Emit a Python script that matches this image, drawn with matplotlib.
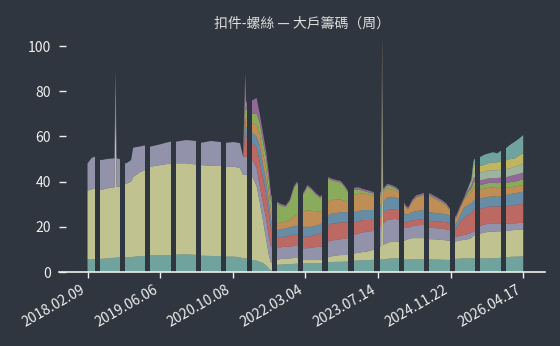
import matplotlib
matplotlib.use("Agg")
import matplotlib.pyplot as plt

plt.rcParams['font.family'] = ['Noto Sans CJK TC', 'DejaVu Sans']

BG = '#2f3640'
FG = '#eeeeee'

# weekly sample index (0 = 2018.02.09)
weeks = [
    0, 4, 7, 13, 19, 26, 27, 28, 31, 37, 42, 44, 50, 55,
    61, 70, 80, 86, 95, 104, 110, 119, 128, 134, 141, 147, 150,
    152, 153, 159, 163, 166, 169, 172, 175, 177,
    183, 187, 191, 195, 199, 202,
    208, 212, 216, 220, 224, 226,
    232, 236, 240, 244, 248, 251,
    257, 261, 265, 269, 273, 276,
    282, 283, 284, 285, 289, 293, 297, 300,
    306, 309, 313, 317, 321, 324,
    330, 334, 338, 342, 346, 349,
    355, 359, 363, 367, 370, 372, 373,
    379, 383, 387, 391, 395, 398,
    404, 408, 412, 416, 420,
]

# weeks with no data (each run is 5 weeks long)
missing_start = [8, 32, 56, 81, 105, 129, 154, 178, 203, 227, 252, 277, 301, 325, 350, 374, 399]
missing_len = 5

tick_pos = [0, 70, 140, 210, 280, 350, 420]
tick_labels = ['2018.02.09', '2019.06.06', '2020.10.08', '2022.03.04',
               '2023.07.14', '2024.11.22', '2026.04.17']

# holding share per tier (%), bottom to top
tier1 = [
    5.6, 5.6, 5.7, 5.8, 6.0, 6.3, 6.3, 6.3, 6.5, 6.5, 6.6, 6.7, 7.0, 7.0,
    7.3, 7.5, 7.5, 7.7, 7.8, 7.6, 7.2, 7.1, 7.0, 6.8, 6.8, 6.5, 6.0,
    6.0, 6.0, 5.3, 5.0, 4.5, 4.0, 3.0, 1.5, 0.5,
    3.2, 3.3, 3.5, 3.5, 3.6, 3.7,
    3.8, 3.8, 3.8, 3.8, 3.8, 3.8,
    4.3, 4.4, 4.5, 4.5, 4.6, 4.6,
    5.0, 5.1, 5.2, 5.3, 5.3, 5.4,
    5.5, 5.5, 5.5, 5.6, 5.8, 6.0, 6.0, 6.0,
    5.5, 5.5, 5.6, 5.6, 5.7, 5.7,
    5.6, 5.5, 5.5, 5.4, 5.4, 5.3,
    5.8, 5.9, 6.0, 6.0, 6.0, 6.0, 6.0,
    6.0, 6.0, 6.0, 6.1, 6.2, 6.3,
    6.5, 6.7, 6.8, 6.8, 6.9,
]
tier2 = [
    30.4, 30.9, 31.3, 30.5, 31.0, 31.2, 69.7, 31.4, 31.2, 32.5, 33.4, 35.3, 37.0, 38.0,
    39.3, 39.8, 40.5, 40.4, 40.3, 40.0, 40.1, 39.9, 39.9, 39.8, 39.8, 39.5, 37.0,
    37.0, 37.0, 36.7, 33.0, 26.5, 19.0, 12.0, 5.5, 3.5,
    2.3, 2.5, 2.5, 2.5, 2.6, 2.5,
    1.5, 1.5, 1.5, 1.5, 1.7, 1.7,
    2.2, 2.6, 2.8, 3.0, 2.9, 3.0,
    3.2, 3.4, 3.6, 3.7, 4.2, 4.6,
    5.5, 6.0, 74.5, 6.4, 7.0, 7.5, 7.5, 7.4,
    8.5, 9.0, 9.4, 9.4, 9.3, 9.3,
    8.9, 9.0, 8.8, 8.8, 8.6, 8.5,
    7.7, 8.1, 8.2, 8.5, 9.0, 10.0, 10.2,
    11.0, 11.5, 11.8, 11.7, 11.8, 11.7,
    11.7, 11.7, 11.8, 11.9, 11.9,
]
tier3 = [
    12.0, 14.0, 14.0, 13.2, 13.0, 12.8, 13.0, 12.6, 12.3, 9.0, 9.5, 13.0, 11.5, 11.0,
    8.9, 9.2, 9.7, 9.6, 10.3, 10.4, 9.9, 11.0, 10.6, 10.6, 10.9, 11.0, 8.0,
    8.0, 8.0, 7.6, 8.0, 7.0, 8.0, 9.0, 8.0, 7.0,
    5.0, 5.2, 5.2, 5.2, 5.3, 5.3,
    5.2, 5.2, 5.5, 5.7, 5.7, 5.7,
    7.0, 7.0, 6.9, 7.0, 7.3, 7.4,
    8.3, 8.5, 8.7, 8.8, 8.5, 8.2,
    9.0, 9.0, 8.0, 9.5, 10.2, 9.8, 10.0, 9.6,
    5.5, 5.0, 5.3, 5.5, 5.8, 5.8,
    5.0, 5.0, 5.0, 5.0, 4.8, 4.7,
    2.0, 2.0, 2.2, 2.3, 2.3, 2.0, 2.1,
    3.5, 3.5, 3.7, 3.7, 3.5, 3.5,
    3.1, 3.1, 2.9, 3.0, 3.0,
]
tier4 = [
    0, 0, 0, 0, 0, 0, 0, 0, 0, 0, 0, 0, 0, 0,
    0, 0, 0, 0, 0, 0, 0, 0, 0, 0, 0, 0, 0,
    11.0, 9.0, 7.4, 9.0, 11.0, 11.0, 11.0, 10.0, 8.0,
    4.5, 4.5, 4.4, 4.8, 5.0, 5.0,
    5.1, 5.1, 5.2, 5.5, 5.8, 6.0,
    7.0, 7.5, 7.3, 7.5, 7.2, 7.0,
    5.5, 5.5, 5.5, 5.2, 5.0, 5.0,
    4.5, 4.5, 5.0, 4.5, 4.4, 4.5, 4.0, 4.4,
    2.5, 2.5, 2.5, 2.5, 2.5, 2.7,
    3.0, 3.0, 3.1, 3.0, 3.2, 3.0,
    3.5, 6.0, 7.6, 8.4, 8.7, 9.5, 9.7,
    7.5, 7.5, 7.5, 7.5, 7.5, 7.5,
    7.7, 7.8, 8.1, 8.3, 8.2,
]
tier5 = [
    0, 0, 0, 0, 0, 0, 0, 0, 0, 0, 0, 0, 0, 0,
    0, 0, 0, 0, 0, 0, 0, 0, 0, 0, 0, 0, 0,
    6.0, 4.0, 4.5, 5.0, 7.0, 6.0, 6.0, 5.0, 4.0,
    3.5, 3.5, 3.7, 3.8, 3.8, 4.0,
    4.4, 4.4, 4.0, 4.0, 4.0, 4.5,
    4.5, 4.5, 4.5, 4.5, 4.5, 4.5,
    4.5, 4.5, 4.4, 4.4, 4.4, 4.3,
    5.0, 5.0, 4.0, 5.0, 5.6, 5.5, 5.5, 5.1,
    3.5, 3.5, 3.7, 4.0, 3.9, 4.0,
    4.0, 3.7, 3.6, 3.6, 3.5, 3.5,
    2.0, 3.0, 4.5, 4.4, 4.5, 4.0, 4.0,
    4.5, 4.5, 4.3, 4.5, 4.3, 4.5,
    5.0, 5.2, 5.2, 5.2, 5.5,
]
tier6 = [
    0, 0, 0, 0, 0, 0, 0, 0, 0, 0, 0, 0, 0, 0,
    0, 0, 0, 0, 0, 0, 0, 0, 0, 0, 0, 0, 0,
    6.0, 4.0, 4.5, 5.0, 5.0, 5.0, 5.0, 5.0, 4.0,
    3.0, 3.0, 3.0, 3.2, 4.2, 5.0,
    6.5, 7.4, 7.0, 6.5, 5.5, 5.3,
    6.0, 5.9, 6.0, 5.5, 5.0, 4.5,
    7.5, 7.5, 7.4, 7.1, 6.6, 6.3,
    4.0, 4.5, 4.0, 4.5, 4.0, 3.2, 3.0, 2.8,
    3.5, 2.3, 4.5, 6.0, 6.3, 6.5,
    7.0, 6.3, 5.5, 4.7, 3.8, 2.5,
    2.5, 3.0, 3.5, 4.9, 5.0, 5.5, 5.5,
    4.0, 4.0, 3.9, 4.0, 3.7, 3.8,
    3.3, 3.0, 3.0, 3.0, 3.0,
]
tier7 = [
    0, 0, 0, 0, 0, 0, 0, 0, 0, 0, 0, 0, 0, 0,
    0, 0, 0, 0, 0, 0, 0, 0, 0, 0, 0, 0, 0,
    6.0, 4.0, 4.0, 5.0, 5.0, 5.0, 5.0, 5.0, 4.0,
    8.8, 7.3, 6.5, 8.3, 12.8, 13.8,
    7.8, 10.4, 9.3, 7.3, 6.3, 6.3,
    10.3, 8.6, 8.0, 7.6, 6.0, 4.3,
    2.5, 2.0, 1.2, 1.0, 1.0, 0.7,
    0.8, 0.8, 2.0, 0.8, 1.3, 1.3, 1.0, 0.7,
    0.3, 0.2, 0.3, 0.3, 0.3, 0.3,
    0.5, 0.5, 0.5, 0.5, 0.4, 0.3,
    0.2, 0.2, 0.3, 1.0, 1.5, 2.5, 2.5,
    2.0, 2.0, 2.2, 2.0, 2.3, 2.2,
    2.2, 2.3, 2.2, 2.3, 2.5,
]
tier8 = [
    0, 0, 0, 0, 0, 0, 0, 0, 0, 0, 0, 0, 0, 0,
    0, 0, 0, 0, 0, 0, 0, 0, 0, 0, 0, 0, 0,
    8.0, 3.0, 6.0, 7.0, 4.0, 4.0, 3.0, 3.0, 3.0,
    0.7, 0.7, 0.7, 0.7, 0.7, 0.7,
    0.7, 0.7, 0.7, 0.7, 0.7, 0.7,
    0.7, 0.7, 0.7, 0.7, 0.7, 0.7,
    0.8, 1.0, 0.8, 0.8, 0.8, 0.8,
    0.7, 0.7, 1.5, 0.7, 0.7, 0.7, 0.7, 0.5,
    0.7, 0.5, 0.7, 0.7, 0.7, 0.7,
    0.8, 0.8, 0.8, 0.7, 0.6, 0.5,
    0.8, 0.8, 0.7, 1.0, 1.5, 2.0, 2.0,
    2.0, 2.0, 2.1, 2.0, 2.2, 2.3,
    2.5, 2.7, 3.0, 3.0, 3.0,
]
tier9 = [
    0, 0, 0, 0, 0, 0, 0, 0, 0, 0, 0, 0, 0, 0,
    0, 0, 0, 0, 0, 0, 0, 0, 0, 0, 0, 0, 0,
    0, 0, 0, 0, 0, 0, 0, 0, 0,
    0, 0, 0, 0, 0, 0,
    0, 0, 0, 0, 0, 0,
    0, 0, 0, 0, 0, 0,
    0, 0, 0, 0, 0, 0,
    0, 0, 0, 0, 0, 0, 0, 0,
    0, 0, 0, 0, 0, 0,
    0, 0, 0, 0, 0, 0,
    0, 0, 0, 0.5, 1.0, 2.5, 3.0,
    3.5, 3.5, 3.6, 3.5, 3.5, 3.5,
    3.5, 3.5, 3.6, 3.7, 4.0,
]
tier10 = [
    0, 0, 0, 0, 0, 0, 0, 0, 0, 0, 0, 0, 0, 0,
    0, 0, 0, 0, 0, 0, 0, 0, 0, 0, 0, 0, 0,
    0, 0, 0, 0, 0, 0, 0, 0, 0,
    0, 0, 0, 0, 0, 0,
    0, 0, 0, 0, 0, 0,
    0, 0, 0, 0, 0, 0,
    0, 0, 0, 0, 0, 0,
    0, 0, 0, 0, 0, 0, 0, 0,
    0, 0, 0, 0, 0, 0,
    0, 0, 0, 0, 0, 0,
    0, 0, 0, 0.3, 0.8, 2.5, 2.5,
    3.0, 3.0, 3.1, 3.5, 3.5, 3.7,
    4.0, 4.0, 3.7, 4.3, 4.5,
]
tier11 = [
    0, 0, 0, 0, 0, 0, 0, 0, 0, 0, 0, 0, 0, 0,
    0, 0, 0, 0, 0, 0, 0, 0, 0, 0, 0, 0, 0,
    0, 0, 0, 0, 0, 0, 0, 0, 0,
    0, 0, 0, 0, 0, 0,
    0, 0, 0, 0, 0, 0,
    0, 0, 0, 0, 0, 0,
    0, 0, 0, 0, 0, 0,
    0, 0, 0, 0, 0, 0, 0, 0,
    0, 0, 0, 0, 0, 0,
    0, 0, 0, 0, 0, 0,
    0, 0, 0, 0.2, 0.7, 2.5, 2.5,
    4.0, 4.5, 4.3, 4.5, 4.0, 4.5,
    5.5, 6.5, 7.4, 7.5, 8.1,
]

tiers = [tier1, tier2, tier3, tier4, tier5, tier6, tier7, tier8, tier9, tier10, tier11]
tier_colors = ['#8dd3c7', '#ffffb3', '#bebada', '#fb8072', '#80b1d3', '#fdb462',
               '#b3de69', '#bc80bd', '#ccebc5', '#ffed6f', '#8dd3c7']

fig = plt.figure(figsize=(5.6, 3.46), dpi=100, facecolor=BG)
ax = fig.add_axes([59 / 560, 74 / 346, 486 / 560, 237.3 / 346])
ax.set_facecolor(BG)

ax.stackplot(weeks, *tiers, colors=tier_colors, alpha=0.7, linewidth=0)

# blank out the weeks without records
for s in missing_start:
    ax.axvspan(s - 0.5, s + missing_len - 0.5, color=BG, lw=0, zorder=2)

ax.set_xlim(-27.5, 441)
ax.set_ylim(0, 105)

ax.set_xticks(tick_pos)
ax.set_xticklabels(tick_labels, rotation=30, ha='right', fontsize=10)
ax.set_yticks([0, 20, 40, 60, 80, 100])
ax.tick_params(axis='x', colors=FG, direction='out', length=4, width=1)
ax.tick_params(axis='y', colors=FG, direction='in', length=5, width=1, labelsize=10, pad=6)

for side in ['left', 'top', 'right']:
    ax.spines[side].set_visible(False)
ax.spines['bottom'].set_color(FG)
ax.spines['bottom'].set_linewidth(1.2)

ax.set_title('扣件-螺絲 — 大戶籌碼（周）', color='#dddddd', fontsize=10, pad=5)

fig.savefig('out.png', dpi=100, facecolor=BG)
